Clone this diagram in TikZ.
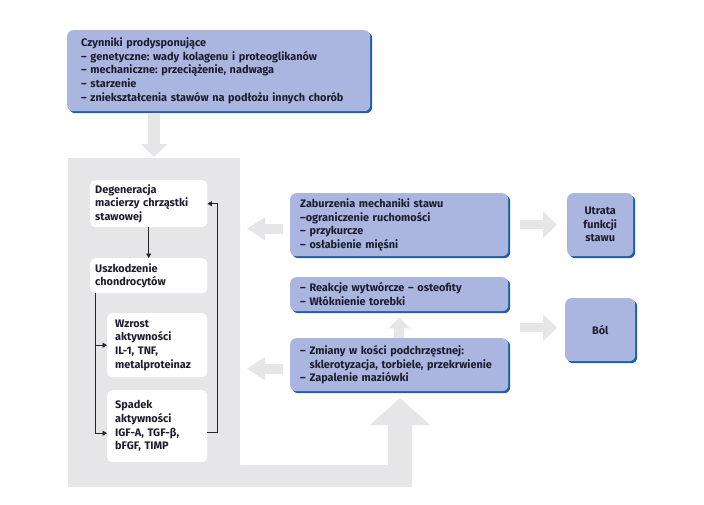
\documentclass[tikz,border=0pt]{standalone}
\usepackage{fontspec}
\setmainfont{Fira Sans}
\frenchspacing
\usetikzlibrary{arrows.meta,shadows,calc}
\definecolor{boxblue}{RGB}{170,182,223}
\definecolor{shblue}{RGB}{30,95,170}
\definecolor{panelgray}{RGB}{230,230,233}
\definecolor{txt}{RGB}{28,28,45}
\begin{document}
\begin{tikzpicture}[x=1pt,y=-1pt,
  every node/.style={font=\fontsize{10.9}{13.6}\selectfont\bfseries, text=txt},
  bbox/.style={fill=boxblue, rounded corners=6pt, inner ysep=0pt, align=left, anchor=north west,
    drop shadow={shadow xshift=2pt, shadow yshift=-2pt, fill=shblue, opacity=1}},
  wbox/.style={fill=white, rounded corners=5pt, inner ysep=0pt, align=left, anchor=north west},
  conn/.style={draw=black!85, line width=0.8pt, -{Triangle[width=5pt,length=4.5pt]}},
  garr/.style={draw=panelgray, line width=10pt, -{Triangle[width=22pt,length=18pt]}},
  garrr/.style={draw=panelgray, line width=9pt, -{Triangle[width=26pt,length=14pt]}},
  garrup/.style={draw=panelgray, line width=10pt, -{Triangle[width=21pt,length=11pt]}},
  garrtop/.style={draw=panelgray, line width=12pt, -{Triangle[width=26pt,length=13pt]}}
]
\fill[white] (0,0) rectangle (704,504);
\useasboundingbox (0,0) rectangle (704,504);

% grey panel with bottom arrow
\coordinate (pnw) at (68,158);
\fill[panelgray] (pnw) -- (240,158) -- (240,465) -- (388,465) -- (388,425) -- (370,425)
  -- (400,398) -- (430,425) -- (412,425) -- (412,487) -- (68,487) -- cycle;

% top box
\node[bbox, text width=275pt, inner xsep=14pt, minimum height=81pt] (top) at (67,30)
 {Czynniki prodysponujące\\
  – genetyczne: wady kolagenu i proteoglikanów\\
  – mechaniczne: przeciążenie, nadwaga\\
  – starzenie\\
  – zniekształcenia stawów na podłożu innych chorób};

\draw[garrtop] ($(top.south west)+(87,2)$) -- ($(pnw)+(86,-1)$);

% white boxes
\node[wbox, text width=107pt, inner xsep=5pt, minimum height=47pt] (deg) at (90,180)
 {Degeneracja\\macierzy chrząstki\\stawowej};
\node[wbox, text width=107pt, inner xsep=5pt, minimum height=35pt] (usz) at (90,258)
 {Uszkodzenie\\chondrocytów};
\node[wbox, text width=84pt, inner xsep=8pt, minimum height=64pt] (wzr) at (107,313)
 {Wzrost\\aktywności\\IL-1, TNF,\\metalproteinaz};
\node[wbox, text width=84pt, inner xsep=8pt, minimum height=72pt] (spa) at (107,390)
 {Spadek\\aktywności\\IGF-A, TGF-β,\\bFGF, TIMP};

\draw[conn] (deg) -- (usz);
\coordinate (sp) at ($(usz.south west)+(5,0)$);
\draw[conn] (sp) |- (wzr.west);
\draw[conn] (sp) |- ([yshift=-7pt]spa.west);
\draw[conn] ([yshift=-6pt]spa.east) -- ++(10,0) |- (deg.east);

% blue boxes right
\node[bbox, text width=198pt, inner xsep=10pt, minimum height=63pt] (zab) at (290,193)
 {Zaburzenia mechaniki stawu\\
  –ograniczenie ruchomości\\
  – przykurcze\\
  – osłabienie mięśni};
\node[bbox, text width=198pt, inner xsep=10pt, minimum height=34pt] (rea) at (290,277)
 {– Reakcje wytwórcze – osteofity\\
  – Włóknienie torebki};
\node[bbox, text width=198pt, inner xsep=10pt, minimum height=53pt] (zmi) at (290,338)
 {– Zmiany w kości podchrzęstnej:\\
  \hphantom{– }sklerotyzacja, torbiele, przekrwienie\\
  – Zapalenie maziówki};
\node[bbox, text width=66pt, inner xsep=0pt, align=center, minimum height=63pt] (utr) at (567,193)
 {Utrata\\funkcji\\stawu};
\node[bbox, text width=70pt, inner xsep=0pt, align=center, minimum height=63pt] (bol) at (565,298)
 {Ból};

% grey block arrows
\draw[garr] ([xshift=-7pt,yshift=-4pt]zab.west) -- ([xshift=-43pt,yshift=-4pt]zab.west);
\draw[garr] ([xshift=-7pt,yshift=-4pt]zmi.west) -- ([xshift=-43pt,yshift=-4pt]zmi.west);
\draw[garrr] ([xshift=12pt]zab.east) -- ([xshift=-10pt]utr.west |- zab.east);
\draw[garrr] ($(rea.east |- bol.west)+(12,-2)$) -- ($(bol.west)+(-8,-2)$);
\draw[garrup] (zmi.north) -- ([yshift=-6pt]rea.south);
\end{tikzpicture}
\end{document}
